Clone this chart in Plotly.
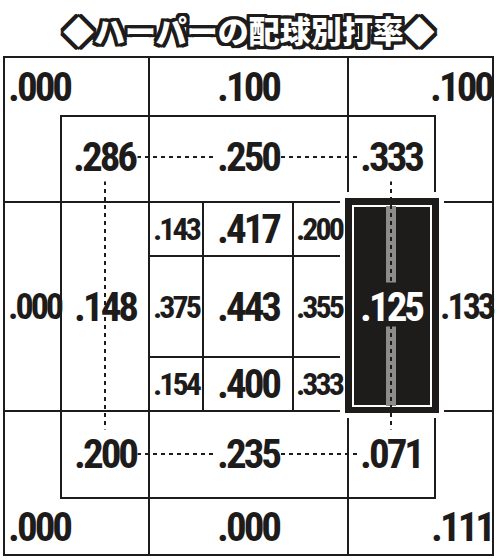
import plotly.graph_objects as go

# Harper batting average by pitch location (catcher's view)
outer_top = [0.000, 0.100, 0.100]
outer_mid = [0.000, 0.133]
outer_bottom = [0.000, 0.000, 0.111]
inner_top = [0.286, 0.250, 0.333]
inner_mid = [0.148, 0.125]
inner_bottom = [0.200, 0.235, 0.071]
core = [
    [0.143, 0.417, 0.200],
    [0.375, 0.443, 0.355],
    [0.154, 0.400, 0.333],
]
title_text = "◆ハーパーの配球別打率◆"

# geometry of the zone board (page pixel units)
left, right, top, bottom = 4, 493, 57, 555
col_x = [149, 348]
row_y = [202, 411]
in_left, in_right, in_top, in_bottom = 61, 435, 116, 498
core_x = [149, 203, 293, 345]
core_y = [202, 256, 357, 411]
box = [345, 439, 198, 413]

NUM_FONT = "Liberation Sans Narrow, Arial Narrow, Roboto Condensed, sans-serif"
BLACK = "#1e1b1b"


def fmt(v):
    return f"{v:.3f}"[1:]


fig = go.Figure()
fig.add_trace(go.Scatter(x=[100, 400], y=[100, 400], mode="markers",
                         marker=dict(opacity=0), hoverinfo="skip"))

shapes = []
line = dict(color=BLACK, width=2)
shapes.append(dict(type="rect", x0=left, x1=right, y0=top, y1=bottom, line=line))
for x in col_x:
    shapes.append(dict(type="line", x0=x, x1=x, y0=top, y1=bottom, line=line))
for y in row_y:
    shapes.append(dict(type="line", x0=left, x1=right, y0=y, y1=y, line=line))
shapes.append(dict(type="rect", x0=in_left, x1=in_right, y0=in_top, y1=in_bottom, line=line))
for x in core_x[1:3]:
    shapes.append(dict(type="line", x0=x, x1=x, y0=core_y[0], y1=core_y[-1], line=line))
for y in core_y[1:3]:
    shapes.append(dict(type="line", x0=core_x[0], x1=core_x[-1], y0=y, y1=y, line=line))

# highlighted zone: white gap, black fill, inner white frame
bx0, bx1, by0, by1 = box
shapes.append(dict(type="rect", x0=bx0 - 5, x1=bx1 + 5, y0=by0 - 6, y1=by1 + 5,
                   fillcolor="white", line=dict(width=0)))
shapes.append(dict(type="rect", x0=bx0, x1=bx1, y0=by0, y1=by1,
                   fillcolor=BLACK, line=dict(width=0)))
shapes.append(dict(type="rect", x0=bx0 + 8, x1=bx1 - 8, y0=by0 + 8, y1=by1 - 7,
                   line=dict(color="white", width=2)))

# dotted guide lines joining the inner ring corners
gx = [105, 391]
gy = [157, 454]
mid_y = (row_y[0] + row_y[1]) / 2
for x in [gx[1]]:
    shapes.append(dict(type="rect", x0=x - 5, x1=x + 5, y0=by0 + 8, y1=mid_y - 24,
                       fillcolor="#8c8c8c", line=dict(width=0)))
    shapes.append(dict(type="rect", x0=x - 5, x1=x + 5, y0=mid_y + 20, y1=by1 - 7,
                       fillcolor="#8c8c8c", line=dict(width=0)))
dot = dict(color=BLACK, width=2, dash="4px,4px")
for y in gy:
    shapes.append(dict(type="line", x0=gx[0], x1=gx[1], y0=y, y1=y, line=dot))
for x in gx:
    shapes.append(dict(type="line", x0=x, x1=x, y0=gy[0], y1=gy[1], line=dot))

annotations = []


def label(x, y, v, size=41, anchor="center", color=BLACK, bg=None, squeeze=3):
    text = f'<span style="letter-spacing:-{squeeze}px">{fmt(v)}</span>'
    annotations.append(dict(
        x=x, y=y, text=text, showarrow=False, xanchor=anchor, yanchor="middle",
        font=dict(family=NUM_FONT, size=size, color=color, weight="bold"),
        bgcolor=bg, borderpad=0,
    ))


band_top = (top + in_top) / 2
band_bottom = (in_bottom + bottom) / 2
ring_top = gy[0]
ring_bottom = gy[1]
center_x = (col_x[0] + col_x[1]) / 2

# outer ring
for ys, vals in [(band_top, outer_top), (band_bottom, outer_bottom)]:
    label(left + 3, ys, vals[0], anchor="left")
    label(center_x, ys, vals[1])
    label(right + 1, ys, vals[2], anchor="right")
label(left + 3, mid_y, outer_mid[0], size=36, anchor="left")
label(right + 3, mid_y, outer_mid[1], size=36, anchor="right")

# inner ring
for ys, vals in [(ring_top, inner_top), (ring_bottom, inner_bottom)]:
    label(gx[0], ys, vals[0], bg="white")
    label(center_x, ys, vals[1], bg="white")
    label(gx[1], ys, vals[2], bg="white")
label(gx[0], mid_y, inner_mid[0])
label(gx[1], mid_y, inner_mid[1], color="white")

# strike zone core
for i, row in enumerate(core):
    yc = (core_y[i] + core_y[i + 1]) / 2
    for j, v in enumerate(row):
        xc = (core_x[j] + core_x[j + 1]) / 2
        if j == 1:
            label(xc, yc, v)
        else:
            label(xc + 1, yc, v, size=32)

# outlined title
shadow = ", ".join(f"{dx}px {dy}px 0 {BLACK}" for dx in (-3, -2, 0, 2, 3)
                   for dy in (-3, -2, 0, 2, 3) if (dx, dy) != (0, 0))
annotations.append(dict(
    x=(left + right) / 2, y=29, text=title_text, showarrow=False,
    xanchor="center", yanchor="middle",
    font=dict(family="Noto Sans CJK JP", size=31, color="white", weight=900,
              shadow=shadow),
))

W, H = 500, 560
fig.update_layout(
    width=W, height=H,
    margin=dict(l=0, r=0, t=0, b=0),
    paper_bgcolor="white", plot_bgcolor="white",
    showlegend=False,
    xaxis=dict(range=[0, W], visible=False, fixedrange=True),
    yaxis=dict(range=[H, 0], visible=False, fixedrange=True),
    shapes=shapes,
    annotations=annotations,
)

# drop the default page margin so the board sits at the window's corner
fig.write_html("out.html", config={"displayModeBar": False},
               post_script="document.body.style.margin = '0';")
